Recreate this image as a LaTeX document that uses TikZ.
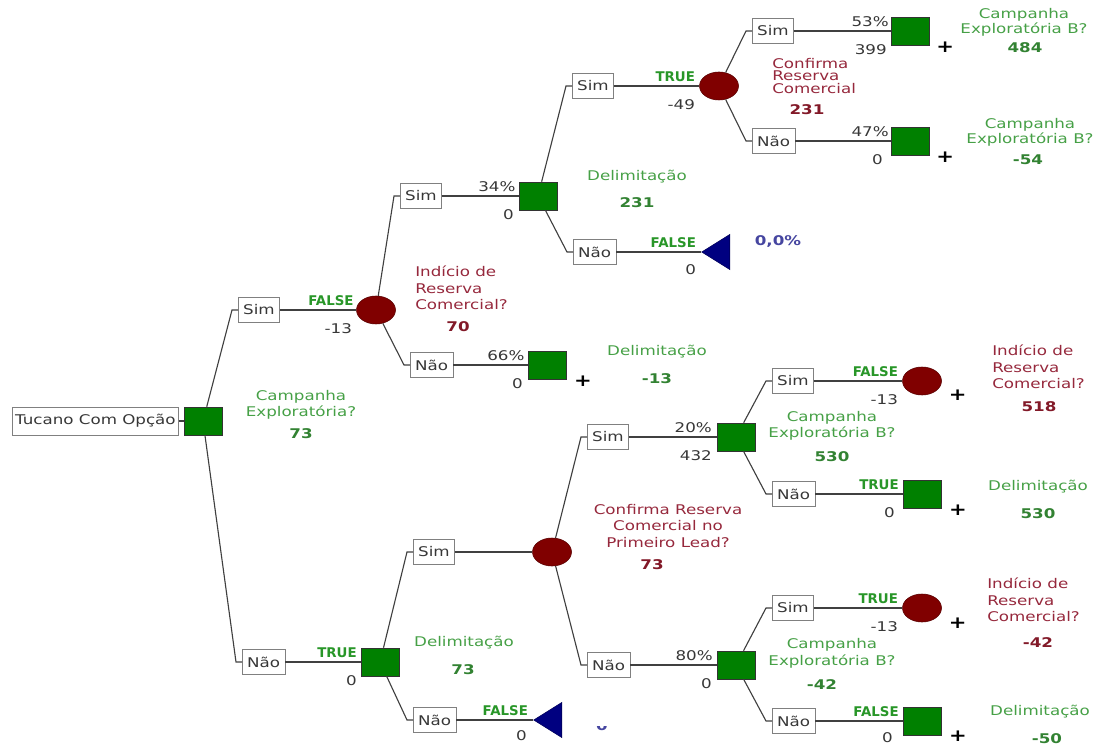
\documentclass[tikz,border=0pt]{standalone}
\usepackage{fontspec}
\setmainfont{DejaVu Sans}[FakeStretch=1.25]
\newfontfamily\flagfont{DejaVu Sans}
\usepackage{tikz}
\usetikzlibrary{positioning, shapes.geometric, calc}

\definecolor{decgreen}{RGB}{0,128,0}
\definecolor{chancered}{RGB}{128,0,0}
\definecolor{endblue}{RGB}{0,0,128}
\definecolor{lblgreen}{RGB}{70,160,70}
\definecolor{valgreen}{RGB}{50,130,50}
\definecolor{flaggreen}{RGB}{40,150,40}
\definecolor{lblred}{RGB}{150,40,60}
\definecolor{valred}{RGB}{130,25,40}
\definecolor{numgray}{RGB}{55,55,55}
\definecolor{lblblue}{RGB}{70,70,160}

\begin{document}
\begin{tikzpicture}[
    x=0.025cm, y=-0.025cm,
    font=\fontsize{9.5}{11.4}\selectfont,
    branchline/.style={draw=black!75, line width=0.8pt},
    branchbox/.style={rectangle, draw=gray, fill=white, text=numgray, inner xsep=3.5pt, inner ysep=0pt, minimum height=0.62cm, anchor=west},
    rootbox/.style={branchbox, inner xsep=2pt, minimum height=0.7cm},
    decision/.style={rectangle, draw=black!80, fill=decgreen, minimum width=0.94cm, minimum height=0.7cm, inner sep=0pt},
    chance/.style={ellipse, draw=chancered!70!black, fill=chancered, minimum width=0.975cm, minimum height=0.7cm, inner sep=0pt},
    payoff/.style={isosceles triangle, isosceles triangle stretches, shape border rotate=180, draw=endblue!70!black, fill=endblue, minimum width=0.875cm, minimum height=0.7cm, inner sep=0pt, anchor=apex},
    flagtxt/.style={font={\flagfont\bfseries\fontsize{9.5}{11}\selectfont}, text=flaggreen, inner sep=0pt, anchor=south east},
    prob/.style={text=numgray, inner sep=0pt, anchor=south east},
    outcome/.style={text=numgray, inner sep=0pt, anchor=north east},
    plusmark/.style={font=\fontsize{12}{12}\selectfont\bfseries, inner sep=0pt},
    glabel/.style={text=lblgreen, align=center, inner sep=0pt},
    gval/.style={text=valgreen, font=\fontsize{9.5}{11.4}\selectfont\bfseries, inner sep=0pt},
    rlabel/.style={text=lblred, align=left, inner sep=0pt, anchor=west, font=\fontsize{9.5}{11.7}\selectfont},
    rval/.style={text=valred, font=\fontsize{9.5}{11.4}\selectfont\bfseries, inner sep=0pt}
]
\useasboundingbox (0,0) rectangle (1102,747);

% Root decision
\node[rootbox] (root) at (12,421) {Tucano Com Opção};
\node[decision] (d0) at (203,421) {};
\draw[branchline] (root) -- (d0);
\node[glabel] (d0lbl) at (301,405) {Campanha\\Exploratória?};
\node[gval] (d0val) at (301,434) {73};

% Branches of the root
\node[branchbox] (bS) at (238,310) {Sim};
\node[branchbox] (bN) at (242,662) {Não};
\draw[branchline] (d0) -- ([xshift=-0.15cm]bS.west) -- (bS.west);
\draw[branchline] (d0) -- ([xshift=-0.15cm]bN.west) -- (bN.west);

% Sim -> chance node
\node[chance] (cS) at (376,310) {};
\draw[branchline] (bS) -- (cS);
\node[flagtxt] (cSflag) at ([shift={(-0.06cm,0.1cm)}]cS.west) {FALSE};
\node[outcome] (cSout) at ([shift={(-0.1cm,-0.33cm)}]cS.west) {-13};
\node[rlabel] (cSlbl) at (415,288) {Indício de\\Reserva\\Comercial?};
\node[rval] (cSval) at (458,327) {70};

\node[branchbox] (bSS) at (400,196) {Sim};
\node[branchbox] (bSN) at (410,365) {Não};
\draw[branchline] (cS) -- ([xshift=-0.15cm]bSS.west) -- (bSS.west);
\draw[branchline] (cS) -- ([xshift=-0.15cm]bSN.west) -- (bSN.west);

% Sim/Sim -> delimitation
\node[decision] (dSS) at (538,196) {};
\draw[branchline] (bSS) -- (dSS);
\node[prob] (dSSp) at ([shift={(-0.08cm,0.1cm)}]dSS.west) {34\%};
\node[outcome] (dSSout) at ([shift={(-0.12cm,-0.33cm)}]dSS.west) {0};
\node[glabel] (dSSlbl) at (637,177) {Delimitação};
\node[gval] (dSSval) at (637,203) {231};

\node[branchbox] (bSSS) at (572,86) {Sim};
\node[branchbox] (bSSN) at (573,252) {Não};
\draw[branchline] (dSS) -- ([xshift=-0.15cm]bSSS.west) -- (bSSS.west);
\draw[branchline] (dSS) -- ([xshift=-0.15cm]bSSN.west) -- (bSSN.west);

% confirma reserva
\node[chance] (cSSS) at (719,86) {};
\draw[branchline] (bSSS) -- (cSSS);
\node[flagtxt] (cSSSflag) at ([shift={(-0.1cm,0.1cm)}]cSSS.west) {TRUE};
\node[outcome] (cSSSout) at ([shift={(-0.1cm,-0.33cm)}]cSSS.west) {-49};
\node[rlabel, font=\fontsize{9.5}{8.9}\selectfont] (cSSSlbl) at (772,76) {Confirma\\Reserva\\Comercial};
\node[rval] (cSSSval) at (807,110) {231};

\node[branchbox] (bSSSS) at (752,31) {Sim};
\node[branchbox] (bSSSN) at (752,141) {Não};
\draw[branchline] (cSSS) -- ([xshift=-0.15cm]bSSSS.west) -- (bSSSS.west);
\draw[branchline] (cSSS) -- ([xshift=-0.15cm]bSSSN.west) -- (bSSSN.west);

\node[decision] (dSSSS) at (910,31) {};
\draw[branchline] (bSSSS) -- (dSSSS);
\node[prob] (dSSSSp) at ([shift={(-0.05cm,0.1cm)}]dSSSS.west) {53\%};
\node[outcome] (dSSSSout) at ([shift={(-0.1cm,-0.33cm)}]dSSSS.west) {399};
\node[plusmark] (dSSSSplus) at ([shift={(0.4cm,-0.4cm)}]dSSSS.east) {+};
\node[glabel, font=\fontsize{9.5}{9.3}\selectfont] (dSSSSlbl) at (1024,22) {Campanha\\Exploratória B?};
\node[gval] (dSSSSval) at (1025,48) {484};

\node[decision] (dSSSN) at (910,141) {};
\draw[branchline] (bSSSN) -- (dSSSN);
\node[prob] (dSSSNp) at ([shift={(-0.05cm,0.1cm)}]dSSSN.west) {47\%};
\node[outcome] (dSSSNout) at ([shift={(-0.2cm,-0.33cm)}]dSSSN.west) {0};
\node[plusmark] (dSSSNplus) at ([shift={(0.4cm,-0.4cm)}]dSSSN.east) {+};
\node[glabel, font=\fontsize{9.5}{9.3}\selectfont] (dSSSNlbl) at (1030,132) {Campanha\\Exploratória B?};
\node[gval] (dSSSNval) at (1028,160) {-54};

% no delimitation
\node[payoff] (tSSN) at (701,252) {};
\draw[branchline] (bSSN) -- (tSSN.apex);
\node[flagtxt] (tSSNflag) at ([shift={(-0.12cm,0.1cm)}]tSSN.apex) {FALSE};
\node[outcome] (tSSNout) at ([shift={(-0.12cm,-0.3cm)}]tSSN.apex) {0};
\node[gval, text=lblblue] (tSSNval) at (778,241) {0,0\%};

% Sim/Nao
\node[decision] (dSN) at (547,365) {};
\draw[branchline] (bSN) -- (dSN);
\node[prob] (dSNp) at ([shift={(-0.08cm,0.1cm)}]dSN.west) {66\%};
\node[outcome] (dSNout) at ([shift={(-0.12cm,-0.33cm)}]dSN.west) {0};
\node[plusmark] (dSNplus) at ([shift={(0.42cm,-0.4cm)}]dSN.east) {+};
\node[glabel] (dSNlbl) at (657,352) {Delimitação};
\node[gval] (dSNval) at (657,379) {-13};

% Nao -> delimitation
\node[decision] (dN) at (380,662) {};
\draw[branchline] (bN) -- (dN);
\node[flagtxt] (dNflag) at ([shift={(-0.1cm,0.1cm)}]dN.west) {TRUE};
\node[outcome] (dNout) at ([shift={(-0.1cm,-0.33cm)}]dN.west) {0};
\node[glabel] (dNlbl) at (464,643) {Delimitação};
\node[gval] (dNval) at (463,670) {73};

\node[branchbox] (bNS) at (413,552) {Sim};
\node[branchbox] (bNN) at (413,720) {Não};
\draw[branchline] (dN) -- ([xshift=-0.15cm]bNS.west) -- (bNS.west);
\draw[branchline] (dN) -- ([xshift=-0.15cm]bNN.west) -- (bNN.west);

\node[payoff] (tNN) at (533,720) {};
\draw[branchline] (bNN) -- (tNN.apex);
\node[flagtxt] (tNNflag) at ([shift={(-0.12cm,0.1cm)}]tNN.apex) {FALSE};
\node[outcome] (tNNout) at ([shift={(-0.15cm,-0.25cm)}]tNN.apex) {0};
\begin{scope}
  \clip (594,726) rectangle (610,737);
  \node[gval, text=lblblue] (tNNval) at (602,726) {0};
\end{scope}

% confirma reserva no primeiro lead
\node[chance] (cNS) at (552,552) {};
\draw[branchline] (bNS) -- (cNS);
\node[rlabel, anchor=center, align=center] (cNSlbl) at (668,526) {Confirma Reserva\\Comercial no\\Primeiro Lead?};
\node[rval] (cNSval) at (652,565) {73};

\node[branchbox] (bNSS) at (587,437) {Sim};
\node[branchbox] (bNSN) at (587,665) {Não};
\draw[branchline] (cNS) -- ([xshift=-0.15cm]bNSS.west) -- (bNSS.west);
\draw[branchline] (cNS) -- ([xshift=-0.15cm]bNSN.west) -- (bNSN.west);

% Sim -> campanha B
\node[decision] (dNSS) at (736,437) {};
\draw[branchline] (bNSS) -- (dNSS);
\node[prob] (dNSSp) at ([shift={(-0.12cm,0.1cm)}]dNSS.west) {20\%};
\node[outcome] (dNSSout) at ([shift={(-0.12cm,-0.33cm)}]dNSS.west) {432};
\node[glabel] (dNSSlbl) at (832,426) {Campanha\\Exploratória B?};
\node[gval] (dNSSval) at (832,457) {530};

\node[branchbox] (bNSSS) at (772,381) {Sim};
\node[branchbox] (bNSSN) at (772,494) {Não};
\draw[branchline] (dNSS) -- ([xshift=-0.15cm]bNSSS.west) -- (bNSSS.west);
\draw[branchline] (dNSS) -- ([xshift=-0.15cm]bNSSN.west) -- (bNSSN.west);

\node[chance] (cNSSS) at (922,381) {};
\draw[branchline] (bNSSS) -- (cNSSS);
\node[flagtxt] (cNSSSflag) at ([shift={(-0.1cm,0.1cm)}]cNSSS.west) {FALSE};
\node[outcome] (cNSSSout) at ([shift={(-0.1cm,-0.33cm)}]cNSSS.west) {-13};
\node[plusmark] (cNSSSplus) at ([shift={(0.4cm,-0.35cm)}]cNSSS.east) {+};
\node[rlabel] (cNSSSlbl) at (992,367) {Indício de\\Reserva\\Comercial?};
\node[rval] (cNSSSval) at (1039,407) {518};

\node[decision] (dNSSN) at (922,494) {};
\draw[branchline] (bNSSN) -- (dNSSN);
\node[flagtxt] (dNSSNflag) at ([shift={(-0.1cm,0.1cm)}]dNSSN.west) {TRUE};
\node[outcome] (dNSSNout) at ([shift={(-0.2cm,-0.33cm)}]dNSSN.west) {0};
\node[plusmark] (dNSSNplus) at ([shift={(0.42cm,-0.4cm)}]dNSSN.east) {+};
\node[glabel] (dNSSNlbl) at (1038,487) {Delimitação};
\node[gval] (dNSSNval) at (1038,514) {530};

% Nao -> campanha B
\node[decision] (dNSN) at (736,665) {};
\draw[branchline] (bNSN) -- (dNSN);
\node[prob] (dNSNp) at ([shift={(-0.1cm,0.1cm)}]dNSN.west) {80\%};
\node[outcome] (dNSNout) at ([shift={(-0.12cm,-0.33cm)}]dNSN.west) {0};
\node[glabel, font=\fontsize{9.5}{12}\selectfont] (dNSNlbl) at (832,653) {Campanha\\Exploratória B?};
\node[gval] (dNSNval) at (822,685) {-42};

\node[branchbox] (bNSNS) at (772,608) {Sim};
\node[branchbox] (bNSNN) at (772,721) {Não};
\draw[branchline] (dNSN) -- ([xshift=-0.15cm]bNSNS.west) -- (bNSNS.west);
\draw[branchline] (dNSN) -- ([xshift=-0.15cm]bNSNN.west) -- (bNSNN.west);

\node[chance] (cNSNS) at (922,608) {};
\draw[branchline] (bNSNS) -- (cNSNS);
\node[flagtxt] (cNSNSflag) at ([shift={(-0.1cm,0.1cm)}]cNSNS.west) {TRUE};
\node[outcome] (cNSNSout) at ([shift={(-0.1cm,-0.33cm)}]cNSNS.west) {-13};
\node[plusmark] (cNSNSplus) at ([shift={(0.4cm,-0.37cm)}]cNSNS.east) {+};
\node[rlabel] (cNSNSlbl) at (987,600) {Indício de\\Reserva\\Comercial?};
\node[rval] (cNSNSval) at (1038,643) {-42};

\node[decision] (dNSNN) at (922,721) {};
\draw[branchline] (bNSNN) -- (dNSNN);
\node[flagtxt] (dNSNNflag) at ([shift={(-0.1cm,0.1cm)}]dNSNN.west) {FALSE};
\node[outcome] (dNSNNout) at ([shift={(-0.25cm,-0.28cm)}]dNSNN.west) {0};
\node[plusmark] (dNSNNplus) at ([shift={(0.42cm,-0.38cm)}]dNSNN.east) {+};
\node[glabel] (dNSNNlbl) at (1040,712) {Delimitação};
\node[gval] (dNSNNval) at (1047,739) {-50};

\end{tikzpicture}
\end{document}
